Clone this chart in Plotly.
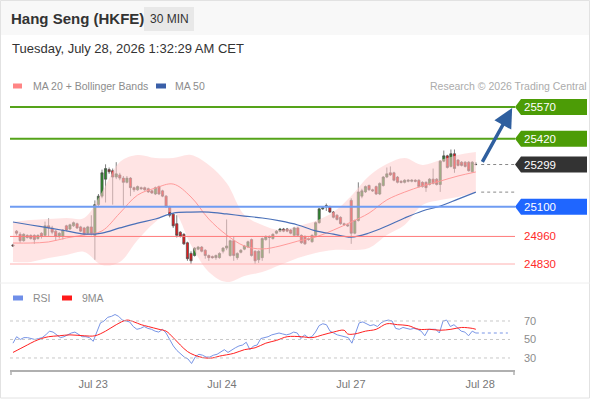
"""Hang Seng (HKFE) 30-minute chart: candles, MA20 + Bollinger band, MA50,
support/resistance tags and an RSI panel underneath."""
import plotly.graph_objects as go

# ---------------- data ----------------
OPEN = [24920, 24985, 24970, 24940, 24965, 24965, 24965, 24950, 24975, 24965,
        25010, 25000, 24985, 24960, 24960, 25010, 24995, 25010, 25020, 25005,
        25000, 24975, 25005, 24965, 25110, 25150, 25230, 25275, 25270, 25240,
        25250, 25235, 25215, 25235, 25190, 25180, 25190, 25190, 25185, 25175,
        25160, 25195, 25175, 25150, 25100, 25065, 25020, 24980, 24970, 24930,
        24880, 24870, 24900, 24910, 24895, 24870, 24865, 24860, 24860, 24890,
        24905, 24870, 24940, 24860, 24885, 24900, 24910, 24945, 24890, 24850,
        24860, 24945, 24960, 24950, 24975, 24985, 24995, 24995, 24990, 24965,
        25000, 24965, 24960, 24950, 24935, 24965, 25025, 25090, 25100, 25100,
        25075, 25060, 25050, 25020, 25015, 25130, 24975, 25035, 25150, 25170,
        25200, 25180, 25195, 25160, 25200, 25240, 25260, 25260, 25240, 25220,
        25215, 25220, 25220, 25225, 25225, 25215, 25215, 25205, 25230, 25230,
        25205, 25315, 25340, 25290, 25350, 25320, 25310, 25310, 25310, 25265,
        25300]
HIGH = [24925, 24990, 24980, 24975, 24970, 24970, 24970, 24970, 24980, 25030,
        25045, 25010, 24990, 24980, 24995, 25015, 25020, 25030, 25025, 25010,
        25005, 25010, 25060, 25130, 25160, 25275, 25300, 25285, 25280, 25310,
        25260, 25245, 25245, 25240, 25195, 25200, 25195, 25195, 25190, 25180,
        25195, 25200, 25180, 25155, 25105, 25070, 25060, 24985, 24975, 24935,
        24890, 24910, 24915, 24915, 24900, 24875, 24870, 24875, 24885, 24910,
        25040, 24945, 24960, 24885, 24900, 24920, 24940, 24950, 24895, 24895,
        24955, 24965, 24965, 24975, 24990, 25000, 25000, 25000, 24995, 25005,
        25005, 24970, 24965, 24955, 24970, 25030, 25095, 25100, 25115, 25105,
        25080, 25065, 25055, 25025, 25020, 25140, 25040, 25215, 25185, 25200,
        25205, 25185, 25200, 25215, 25245, 25285, 25290, 25265, 25245, 25225,
        25230, 25230, 25230, 25230, 25230, 25220, 25220, 25235, 25280, 25235,
        25320, 25365, 25345, 25370, 25370, 25325, 25315, 25315, 25315, 25315,
        25310]
LOW = [24910, 24965, 24930, 24935, 24950, 24945, 24925, 24945, 24950, 24960,
       24960, 24970, 24940, 24950, 24945, 24985, 24990, 25005, 24995, 24980,
       24965, 24970, 24965, 24850, 25100, 25140, 25120, 25255, 25110, 25230,
       25225, 25105, 25210, 25150, 25170, 25175, 25180, 25175, 25165, 25160,
       25155, 25155, 25145, 25095, 25050, 25000, 24955, 24955, 24920, 24845,
       24830, 24865, 24895, 24885, 24855, 24845, 24855, 24850, 24855, 24880,
       24895, 24865, 24845, 24850, 24880, 24895, 24905, 24865, 24830, 24835,
       24845, 24940, 24880, 24945, 24970, 24980, 24980, 24980, 24970, 24960,
       24960, 24925, 24920, 24940, 24930, 24960, 25020, 25085, 25080, 25070,
       25045, 25035, 25015, 25010, 25005, 24925, 24970, 25030, 25140, 25165,
       25175, 25170, 25155, 25155, 25195, 25235, 25245, 25220, 25210, 25210,
       25210, 25215, 25215, 25215, 25190, 25190, 25170, 25200, 25205, 25200,
       25170, 25310, 25280, 25285, 25260, 25290, 25290, 25285, 25265, 25260,
       25295]
CLOSE = [24915, 24975, 24940, 24970, 24955, 24950, 24945, 24965, 24960, 25010,
         25000, 24980, 24960, 24975, 24990, 24990, 25015, 25025, 25000, 24985,
         24970, 25005, 24975, 25110, 25150, 25260, 25280, 25265, 25240, 25255,
         25235, 25215, 25235, 25190, 25180, 25195, 25185, 25180, 25170, 25165,
         25190, 25160, 25150, 25100, 25060, 25010, 24965, 24960, 24925, 24855,
         24845, 24905, 24910, 24890, 24870, 24860, 24860, 24870, 24880, 24905,
         24915, 24940, 24870, 24880, 24895, 24915, 24935, 24870, 24845, 24890,
         24950, 24960, 24955, 24970, 24985, 24995, 24985, 24985, 24975, 25000,
         24965, 24930, 24925, 24945, 24965, 25025, 25090, 25095, 25105, 25075,
         25050, 25040, 25020, 25015, 25010, 24975, 25035, 25170, 25175, 25195,
         25180, 25175, 25160, 25210, 25240, 25255, 25250, 25225, 25215, 25215,
         25225, 25225, 25225, 25220, 25195, 25195, 25190, 25230, 25210, 25205,
         25315, 25340, 25285, 25350, 25280, 25295, 25295, 25290, 25270, 25310,
         25299]

# overlays read every 5 bars
MA_IDX = [0, 5, 10, 15, 20, 25, 30, 35, 40, 45, 50, 55, 60, 65, 70, 75, 80,
          85, 90, 95, 100, 105, 110, 115, 120, 125, 130]
MA20 = [24929, 24929, 24934, 24953, 24967, 24986, 25070, 25155, 25188, 25207,
        25146, 25042, 24967, 24915, 24901, 24915, 24938, 24957, 24990, 25028,
        25070, 25132, 25169, 25198, 25221, 25245, 25264]
BB_UP = [25028, 25037, 25042, 25047, 25047, 25169, 25311, 25344, 25330, 25330,
         25344, 25297, 25212, 25061, 25014, 24990, 25009, 25033, 25075, 25151,
         25245, 25301, 25330, 25297, 25320, 25344, 25358]
BB_DN = [24840, 24840, 24858, 24872, 24887, 24825, 24840, 24943, 25028, 25075,
         24920, 24792, 24745, 24774, 24792, 24825, 24858, 24882, 24896, 24896,
         24906, 24967, 25014, 25108, 25132, 25146, 25169]
MA50 = [25028, 25014, 25000, 24986, 24971, 24976, 25000, 25023, 25042, 25070,
        25075, 25075, 25066, 25056, 25047, 25033, 25014, 24986, 24971, 24957,
        24976, 25009, 25047, 25080, 25103, 25136, 25169]

RSI = [46, 53, 50, 52, 52, 51, 50, 51, 52, 55, 59, 58, 55, 52, 53, 55, 57, 58,
       55, 53, 53, 52, 48, 57, 68, 70, 74, 75, 77, 75, 71, 70, 69, 64, 61, 62,
       64, 62, 61, 59, 58, 61, 57, 50, 43, 38, 34, 31, 29, 24, 31, 34, 33, 31,
       31, 33, 34, 37, 39, 36, 39, 41, 43, 44, 47, 39, 43, 44, 51, 52, 53, 55,
       56, 57, 56, 55, 56, 58, 57, 51, 55, 52, 53, 58, 65, 67, 66, 59, 57, 55,
       54, 53, 52, 46, 57, 68, 69, 67, 65, 66, 64, 68, 70, 71, 70, 62, 61, 63,
       62, 61, 62, 61, 59, 54, 61, 61, 61, 57, 70, 71, 64, 66, 62, 59, 58, 54,
       59, 57]
RSI_MA_IDX = [0, 2, 4, 6, 8, 10, 13, 16, 20, 23, 26, 29, 32, 34, 36, 38, 41,
              43, 45, 47, 49, 51, 54, 56, 58, 62, 65, 68, 71, 74, 77, 81, 84,
              87, 90, 93, 94, 96, 99, 102, 105, 108, 111, 114, 117, 120, 123,
              126, 129, 130]
RSI_MA = [36, 40, 44, 48, 51, 53, 54, 55, 54, 54, 59, 66, 71, 69, 66, 64, 61,
          59, 52, 44, 37, 33, 30, 30, 32, 35, 39, 41, 46, 49, 53, 53, 52, 55,
          58, 60, 56, 56, 59, 61, 67, 66, 65, 61, 61, 60, 61, 63, 62, 61]

TICK_IDX = [22.5, 58.7, 94.9, 131.2]
TICK_TXT = ["Jul 23", "Jul 24", "Jul 27", "Jul 28"]

RESIST = [25570, 25420]
PIVOT = 25100
SUPPORT = [24960, 24830]
LAST = 25299

# ---------------- geometry helpers (figure pixels -> paper) ----------------
W, H = 590, 400
L_M, R_M = 10, 75
PW = W - L_M - R_M


def px(x):
    return (x - L_M) / PW


def py(y):
    return 1 - y / H


X_RANGE = [-0.84, 141.0]
Y_RANGE = [24731, 25641]
RSI_RANGE = [17.0, 92.7]
FONT = "Liberation Sans, Arial, sans-serif"
# one pixel expressed in price units (for tag heights)
PRICE_PX = (Y_RANGE[1] - Y_RANGE[0]) / (285 - 92)

fig = go.Figure()

# ---------- Bollinger band + MAs ----------
fig.add_trace(go.Scatter(x=MA_IDX, y=BB_UP, mode="lines", line=dict(width=0, shape="spline"),
                         hoverinfo="skip", showlegend=False))
fig.add_trace(go.Scatter(x=MA_IDX, y=BB_DN, mode="lines", line=dict(width=0, shape="spline"),
                         fill="tonexty", fillcolor="rgba(255,205,205,0.55)",
                         hoverinfo="skip", showlegend=False))
fig.add_trace(go.Scatter(x=MA_IDX, y=MA20, mode="lines",
                         line=dict(color="#ff9a9a", width=1, shape="spline"), showlegend=False))
fig.add_trace(go.Scatter(x=MA_IDX, y=MA50, mode="lines",
                         line=dict(color="#4a70b8", width=1.2, shape="spline"), showlegend=False))

# ---------- candles ----------
n = len(CLOSE)
fig.add_trace(go.Candlestick(
    x=list(range(n)), open=OPEN, high=HIGH, low=LOW, close=CLOSE,
    increasing=dict(fillcolor="#2a8c2a", line=dict(color="#4a4a4a", width=0.7)),
    decreasing=dict(fillcolor="#e5191b", line=dict(color="#4a4a4a", width=0.7)),
    whiskerwidth=0, showlegend=False,
))

# dotted projections of last close and MA50
for val in (LAST, MA50[-1]):
    fig.add_trace(go.Scatter(x=[n + 0.5, X_RANGE[1]], y=[val, val], mode="lines",
                             line=dict(color="#888888", width=1, dash="dot"),
                             showlegend=False, hoverinfo="skip"))

# ---------- RSI panel ----------
rsi_x = [i * (n - 1) / (len(RSI) - 1) for i in range(len(RSI))]
fig.add_trace(go.Scatter(x=rsi_x, y=RSI, mode="lines", xaxis="x2", yaxis="y2",
                         line=dict(color="#7895e6", width=1), showlegend=False))
fig.add_trace(go.Scatter(x=[rsi_x[-1], 139], y=[RSI[-1], RSI[-1]], mode="lines",
                         xaxis="x2", yaxis="y2",
                         line=dict(color="#7895e6", width=1, dash="dot"), showlegend=False))
fig.add_trace(go.Scatter(x=RSI_MA_IDX, y=RSI_MA, mode="lines", xaxis="x2", yaxis="y2",
                         line=dict(color="#ff2020", width=1, shape="spline"), showlegend=False))

shapes = []
# header band, outer border, panel separator
shapes.append(dict(type="rect", xref="paper", yref="paper", x0=px(0), x1=px(590),
                   y0=py(35), y1=py(0), fillcolor="#f8f8f8", line_width=0, layer="below"))
shapes.append(dict(type="rect", xref="paper", yref="paper", x0=px(0.5), x1=px(589.5),
                   y0=py(398), y1=py(0.5), line=dict(color="#e2e2e2", width=1)))
shapes.append(dict(type="line", xref="paper", yref="paper", x0=px(0), x1=px(590),
                   y0=py(283), y1=py(283), line=dict(color="#eeeeee", width=1)))

# horizontal levels
for lv in RESIST:
    shapes.append(dict(type="line", xref="paper", yref="y", x0=0, x1=1, y0=lv, y1=lv,
                       line=dict(color="#55a31a", width=2)))
shapes.append(dict(type="line", xref="paper", yref="y", x0=0, x1=1, y0=PIVOT, y1=PIVOT,
                   line=dict(color="#6f9cf2", width=2)))
for lv, col in zip(SUPPORT, ["#ff7a7a", "#ffb0b0"]):
    shapes.append(dict(type="line", xref="paper", yref="y", x0=0, x1=1, y0=lv, y1=lv,
                       line=dict(color=col, width=1)))

# right-hand tags
hh = 8 * PRICE_PX
for lv, col in [(RESIST[0], "#4c9c06"), (RESIST[1], "#4c9c06"),
                (LAST, "#333333"), (PIVOT, "#1f66ff")]:
    path = (f"M {px(515)},{lv} L {px(521)},{lv + hh} L {px(587)},{lv + hh} "
            f"L {px(587)},{lv - hh} L {px(521)},{lv - hh} Z")
    shapes.append(dict(type="path", xref="paper", yref="y", path=path,
                       fillcolor=col, line_width=0))

# RSI gridlines
for g in (70, 50, 30):
    shapes.append(dict(type="line", xref="paper", yref="y2", x0=0, x1=px(510), y0=g, y1=g,
                       line=dict(color="#c8c8c8", width=1, dash="dot")))

# x-axis end ticks
for xe in (11, 514):
    shapes.append(dict(type="line", xref="paper", yref="paper", x0=px(xe), x1=px(xe),
                       y0=py(370), y1=py(375), line=dict(color="#b0b0b0", width=1.5)))

# legend swatches
for x0, x1, yy, col in [(13, 22, 86, "#ff8585"), (156, 166, 86, "#3a5fa8"),
                        (13, 23, 298, "#6f8ee8"), (62, 72, 298, "#ff1a1a")]:
    shapes.append(dict(type="rect", xref="paper", yref="paper", x0=px(x0), x1=px(x1),
                       y0=py(yy + 2.5), y1=py(yy - 2.5), fillcolor=col, line_width=0))

# "30 MIN" box
shapes.append(dict(type="rect", xref="paper", yref="paper", x0=px(144), x1=px(194),
                   y0=py(31), y1=py(7), fillcolor="#e8e8e8", line_width=0))

ann = []


def text(x, y, s, size, color, anchor="left", bold=False):
    ann.append(dict(xref="paper", yref="paper", x=px(x), y=py(y), text=f"<b>{s}</b>" if bold else s,
                    showarrow=False, xanchor=anchor, yanchor="middle",
                    font=dict(size=size, color=color, family=FONT)))


text(9, 19, "Hang Seng (HKFE)", 15, "#333333", bold=True)
text(169, 19, "30 MIN", 12, "#333333", anchor="center")
text(10, 48, "Tuesday, July 28, 2026 1:32:29 AM CET", 13, "#333333")
text(31, 86, "MA 20 + Bollinger Bands", 10.5, "#8c8c8c")
text(173, 86, "MA 50", 10.5, "#8c8c8c")
text(589, 86, "Research © 2026 Trading Central", 10.5, "#ababab", anchor="right")
text(31, 298, "RSI", 10.5, "#8c8c8c")
text(80, 298, "9MA", 10.5, "#8c8c8c")

for lv in RESIST + [LAST, PIVOT]:
    ann.append(dict(xref="paper", yref="y", x=px(540), y=lv, text=str(lv), showarrow=False,
                    xanchor="center", yanchor="middle",
                    font=dict(size=11.5, color="white", family=FONT)))
for lv in SUPPORT:
    ann.append(dict(xref="paper", yref="y", x=px(540), y=lv, text=str(lv), showarrow=False,
                    xanchor="center", yanchor="middle",
                    font=dict(size=11.5, color="#ff2a2a", family=FONT)))
for g in (70, 50, 30):
    ann.append(dict(xref="paper", yref="y2", x=px(522), y=g, text=str(g), showarrow=False,
                    xanchor="left", yanchor="middle",
                    font=dict(size=11, color="#8c8c8c", family=FONT)))

# forecast arrow towards the first resistance
ann.append(dict(xref="x", yref="y", axref="x", ayref="y", x=140.2, y=RESIST[0] - 5,
                ax=131.6, ay=LAST + 5, text="", showarrow=True, arrowhead=2,
                arrowsize=1.1, arrowwidth=3.5, arrowcolor="#2f5f9f"))

fig.update_layout(
    width=W, height=H, margin=dict(l=L_M, r=R_M, t=0, b=0),
    paper_bgcolor="white", plot_bgcolor="white", showlegend=False,
    font=dict(family=FONT), boxgap=0.12,
    xaxis=dict(domain=[0, 1], range=X_RANGE, anchor="y", visible=False,
               rangeslider=dict(visible=False)),
    yaxis=dict(domain=[py(285), py(92)], range=Y_RANGE, visible=False),
    xaxis2=dict(domain=[0, 1], range=X_RANGE, anchor="y2", showgrid=False, zeroline=False,
                showline=True, linecolor="#b0b0b0", linewidth=1.5,
                tickvals=TICK_IDX, ticktext=TICK_TXT, ticks="outside", ticklen=3,
                tickcolor="rgba(0,0,0,0)", tickfont=dict(size=11, color="#777777")),
    yaxis2=dict(domain=[py(370), py(300)], range=RSI_RANGE, visible=False),
    shapes=shapes, annotations=ann,
)

# the page is photographed at exactly 590x400, so drop the default body margin
fig.write_html("out.html", config={"displayModeBar": False},
               post_script="document.body.style.margin='0px';document.body.style.padding='0px';")
